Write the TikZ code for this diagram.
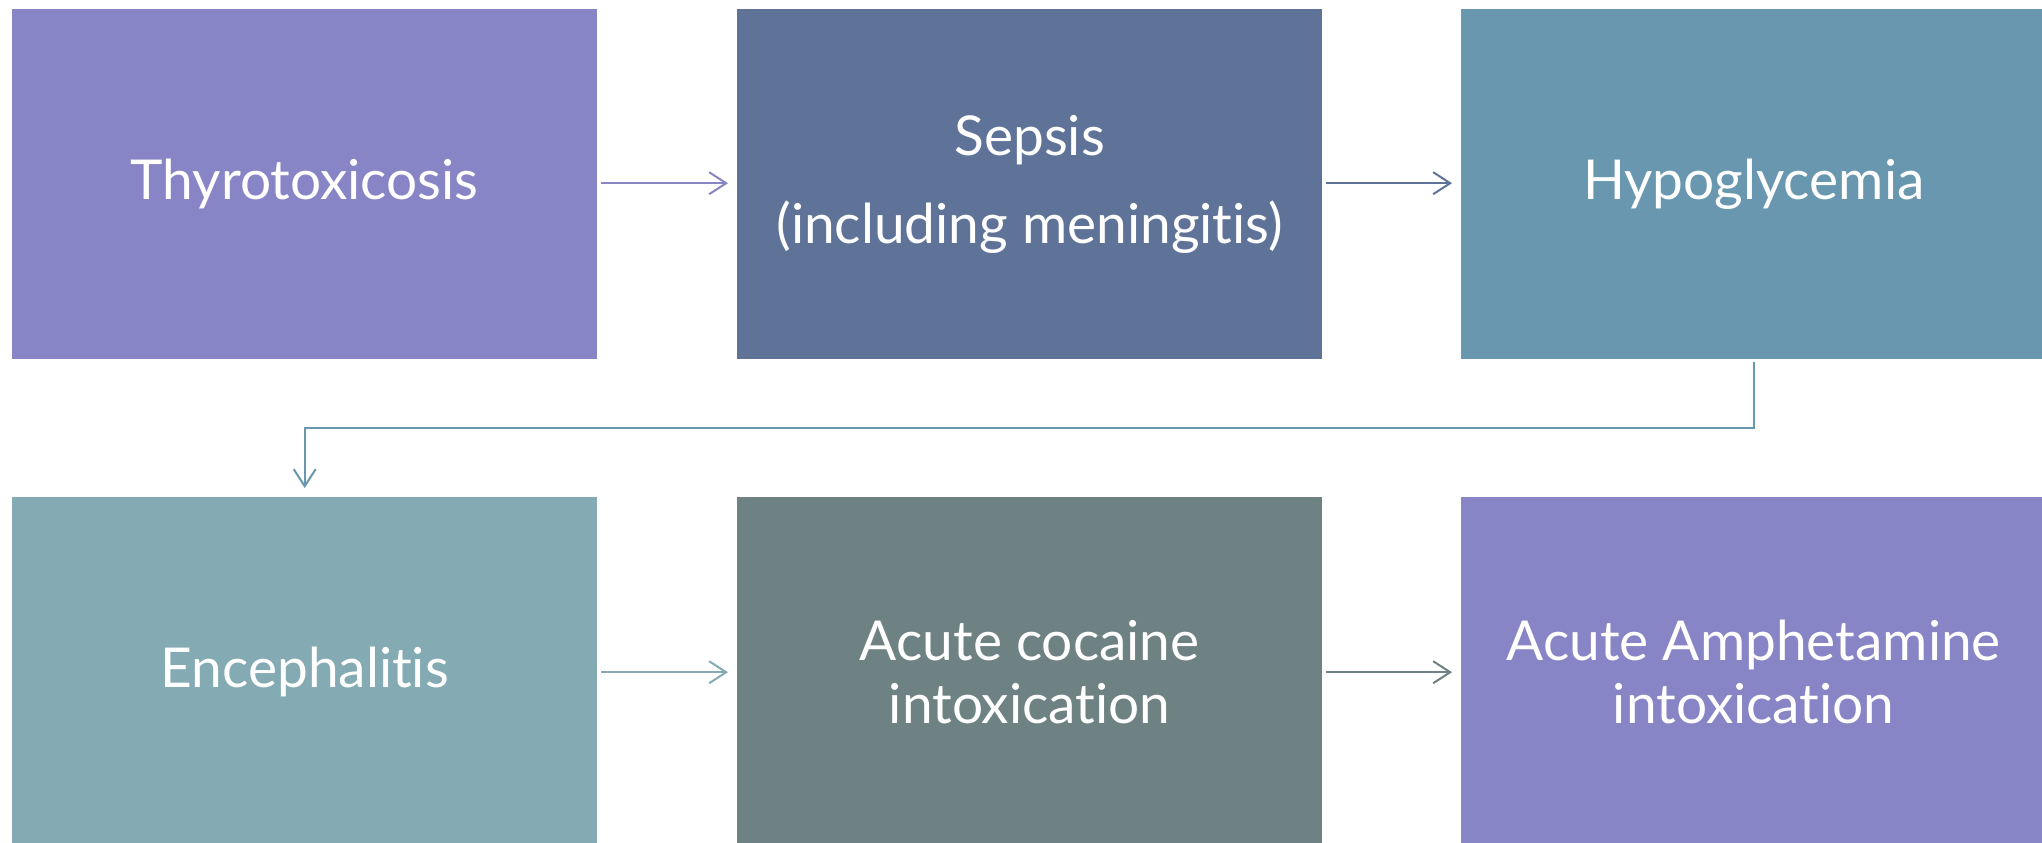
\documentclass[tikz,border=0pt]{standalone}
\usepackage{fontspec}
\setmainfont[Ligatures=NoCommon]{Lato}
\usetikzlibrary{arrows.meta}
\definecolor{cPurple}{HTML}{8785C5}
\definecolor{cSlate}{HTML}{5F7399}
\definecolor{cTeal}{HTML}{6897AF}
\definecolor{cLightTeal}{HTML}{84AAB4}
\definecolor{cGrey}{HTML}{6F8283}
\tikzset{
  x=1pt, y=-1pt,
  box/.style={anchor=north west, minimum width=585pt, minimum height=350pt,
    inner sep=0pt, text=white, align=center,
    font=\fontsize{55}{63}\selectfont},
  arr/.style={line width=2pt, -{Straight Barb[length=17pt,width=22pt,line width=2pt]}},
}
\begin{document}
\begin{tikzpicture}
\useasboundingbox (0,0) rectangle (2042,843);
\clip (0,0) rectangle (2042,843);
\fill[white] (0,0) rectangle (2042,843);
\node[box, fill=cPurple] (b1) at (12,9) {\raisebox{-3pt}{Thyrotoxicosis}};
\node[box, fill=cSlate] (b2) at (737,9) {\raisebox{-3pt}{Sepsis}\\[25pt]\raisebox{-3pt}{(including meningitis)}};
\node[box, fill=cTeal] (b3) at (1461,9) {\raisebox{-3pt}{Hypoglycemia}};
\node[box, fill=cLightTeal] (b4) at (12,497) {\raisebox{-2pt}{Encephalitis}};
\node[box, fill=cGrey] (b5) at (737,497) {Acute cocaine\\intoxication};
\node[box, fill=cPurple] (b6) at (1461,497) {Acute Amphetamine\\intoxication};
\draw[arr, cPurple] ([xshift=4pt,yshift=1pt]b1.east) -- ([xshift=-9pt,yshift=1pt]b2.west);
\draw[arr, cSlate] ([xshift=4pt,yshift=1pt]b2.east) -- ([xshift=-9pt,yshift=1pt]b3.west);
\coordinate (m) at (0,428);
\draw[arr, cTeal] ([yshift=-3pt]b3.south) -- (b3.south |- m) -- (b4.north |- m) -- ([yshift=9pt]b4.north);
\draw[arr, cLightTeal] ([xshift=4pt]b4.east) -- ([xshift=-9pt]b5.west);
\draw[arr, cGrey] ([xshift=4pt]b5.east) -- ([xshift=-9pt]b6.west);
\end{tikzpicture}
\end{document}
